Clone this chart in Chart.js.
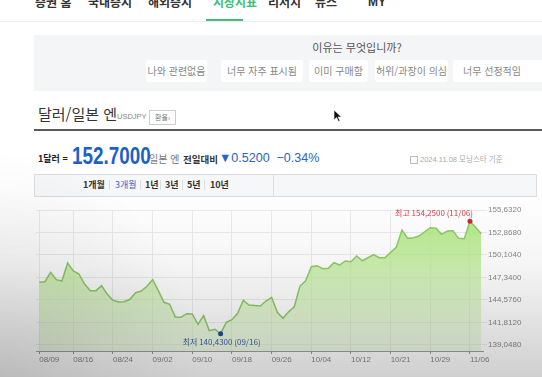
<!DOCTYPE html>
<html lang="ko">
<head>
<meta charset="utf-8">
<script src="https://cdn.jsdelivr.net/npm/chart.js@4.4.1/dist/chart.umd.min.js"></script>
<style>
  html, body { margin:0; padding:0; background:#fff; }
  body { width:542px; height:377px; overflow:hidden; position:relative; font-family:"Noto Sans CJK KR","Noto Sans",sans-serif; }
  .abs { position:absolute; white-space:nowrap; }
  .nav { top:-5px; font-size:12px; font-weight:bold; color:#333; line-height:14px; }
  .btn { top:60px; height:22px; line-height:22px; background:#fff; border-radius:3px; font-size:10px; color:#888; text-align:center; }
  .tab { top:179px; font-size:9px; font-weight:bold; color:#333; line-height:12px; }
  .sep { top:180px; width:1px; height:10px; background:#ddd; }
  .num { font-family:"Liberation Sans",Arial,sans-serif; }
</style>
</head>
<body>
<div class="abs nav" style="left:35px">증권 홈</div>
<div class="abs nav" style="left:88px">국내증시</div>
<div class="abs nav" style="left:148px">해외증시</div>
<div class="abs nav" style="left:213px;color:#3cbf78">시장지표</div>
<div class="abs nav" style="left:268px">리서치</div>
<div class="abs nav" style="left:315px">뉴스</div>
<div class="abs nav num" style="left:368px">MY</div>
<div class="abs" style="left:0;top:21px;width:542px;height:1px;background:#eee"></div>
<div class="abs" style="left:206px;top:19px;width:37px;height:2px;background:#3cbf78"></div>

<div class="abs" style="left:34px;top:35px;width:508px;height:56px;background:#f4f5f7"></div>
<div class="abs" style="left:300px;top:40px;width:114px;text-align:center;font-size:11px;color:#555;line-height:14px">이유는 무엇입니까?</div>
<div class="abs btn" style="left:146px;width:61px">나와 관련없음</div>
<div class="abs btn" style="left:221px;width:82px">너무 자주 표시됨</div>
<div class="abs btn" style="left:309px;width:59px">이미 구매함</div>
<div class="abs btn" style="left:375px;width:73px">허위/과장이 의심</div>
<div class="abs btn" style="left:453px;width:95px;text-align:left;padding-left:10px">너무 선정적임</div>

<div class="abs" style="left:38px;top:104px;font-size:15px;color:#333;line-height:20px">달러/일본 엔</div>
<div class="abs num" style="left:117px;top:112px;font-size:7.5px;color:#888">USDJPY</div>
<div class="abs" style="left:149px;top:110px;width:25px;height:13px;border:1px solid #ccc;font-size:7px;color:#777;line-height:13px;text-align:center">환율›</div>
<svg class="abs" style="left:334px;top:110px" width="8" height="12" viewBox="0 0 8 12"><path d="M0 0 L0 10 L2.5 7.5 L4.5 11.5 L6 10.8 L4 7 L7.5 7 Z" fill="#111" stroke="#fff" stroke-width="0.6"/></svg>
<div class="abs" style="left:34px;top:129px;width:508px;height:2px;background:#5a5a5a"></div>

<div class="abs" style="left:38px;top:152px;font-size:9px;font-weight:bold;color:#222;line-height:14px">1달러 =</div>
<div class="abs num" style="left:72px;top:142px;font-size:23px;font-weight:bold;color:#1d5fc9;line-height:28px;transform:scaleX(0.82);transform-origin:left">152.7000</div>
<div class="abs" style="left:149px;top:152px;font-size:10px;color:#777;line-height:14px">일본 엔</div>
<div class="abs" style="left:183px;top:152px;font-size:9.5px;font-weight:bold;color:#333;line-height:14px">전일대비</div>
<div class="abs num" style="left:219px;top:150px;font-size:12.5px;color:#2a62c4;line-height:16px">▼0.5200 &nbsp;−0.34%</div>
<div class="abs" style="left:410px;top:156px;width:6px;height:6px;border:1px solid #bbb"></div>
<div class="abs" style="left:420px;top:153px;font-size:7.5px;color:#aaa;line-height:12px"><span class="num">2024.11.08</span> 모닝스타 기준</div>

<div class="abs" style="left:34px;top:174px;width:501px;height:21px;background:#f6f7f9;border:1px solid #ddd"></div>
<div class="abs" style="left:273px;top:175px;width:1px;height:21px;background:#ddd"></div>
<div class="abs tab" style="left:83px">1개월</div>
<div class="abs sep" style="left:109px"></div>
<div class="abs tab" style="left:115px;color:#3b66c9;font-weight:normal">3개월</div>
<div class="abs sep" style="left:140px"></div>
<div class="abs tab" style="left:145px">1년</div>
<div class="abs sep" style="left:160px"></div>
<div class="abs tab" style="left:165px">3년</div>
<div class="abs sep" style="left:182px"></div>
<div class="abs tab" style="left:187px">5년</div>
<div class="abs sep" style="left:204px"></div>
<div class="abs tab" style="left:210px">10년</div>

<canvas id="fxChart" class="abs" style="left:0;top:200px" width="542" height="177"></canvas>

<div class="abs" style="left:0;top:190px;width:542px;height:187px;pointer-events:none;background:linear-gradient(to bottom,rgba(0,0,0,0) 0%,rgba(0,0,0,0.04) 40%,rgba(0,0,0,0.19) 100%)"></div>
<div class="abs" style="left:0;top:150px;width:200px;height:227px;pointer-events:none;background:radial-gradient(ellipse 100% 100% at 0% 100%,rgba(0,0,0,0.1),rgba(0,0,0,0) 100%)"></div>

<script>
// USD/JPY daily, 3 months (Mon-Sat)
const dates = ['08/09','08/10','08/12','08/13','08/14','08/15','08/16','08/17','08/19','08/20',
  '08/21','08/22','08/23','08/24','08/26','08/27','08/28','08/29','08/30','08/31',
  '09/02','09/03','09/04','09/05','09/06','09/07','09/09','09/10','09/11','09/12',
  '09/13','09/14','09/16','09/17','09/18','09/19','09/20','09/21','09/23','09/24',
  '09/25','09/26','09/27','09/28','09/30','10/01','10/02','10/03','10/04','10/05',
  '10/07','10/08','10/09','10/10','10/11','10/12','10/14','10/15','10/16','10/17',
  '10/18','10/19','10/21','10/22','10/23','10/24','10/25','10/26','10/28','10/29',
  '10/30','10/31','11/01','11/02','11/04','11/05','11/06','11/07','11/08'];

const rates = [146.75,146.82,147.98,147.07,146.91,149.12,148.14,147.77,146.54,145.72,
  145.72,146.33,145.27,144.54,144.33,144.37,144.66,145.47,145.68,146.26,
  147.07,145.72,144.29,144.05,142.49,142.45,142.89,142.86,141.59,142.65,
  140.81,140.98,140.43,141.84,142.16,142.94,144.54,143.96,143.90,143.84,
  144.45,144.91,143.06,142.33,143.14,143.75,146.29,146.94,148.66,148.79,
  148.42,148.47,149.16,148.87,149.37,149.28,149.98,149.40,149.77,150.14,
  149.77,149.77,150.43,151.05,153.17,152.15,152.23,152.44,152.96,153.46,
  153.38,152.64,153.05,153.09,152.15,152.10,154.25,153.50,152.70];

const yTicks = [139.048, 141.812, 144.576, 147.340, 150.104, 152.868, 155.632];
const xTickDays = ['08/09','08/16','08/24','09/02','09/10','09/18','09/26','10/04','10/12','10/21','10/29','11/06'];

const maxIdx = rates.indexOf(Math.max(...rates));
const minIdx = rates.indexOf(Math.min(...rates));
const fmt = v => v.toFixed(4).replace('.', ',');

const hiLoPlugin = {
  id: 'hiLo',
  afterDatasetsDraw(chart) {
    const pts = chart.getDatasetMeta(0).data;
    const ctx = chart.ctx;
    ctx.save();
    ctx.font = '8px "Noto Sans CJK KR", sans-serif';
    ctx.textBaseline = 'middle';
    const lo = pts[minIdx];
    ctx.fillStyle = '#3d63a6';
    ctx.textAlign = 'center';
    ctx.fillText('최저 ' + fmt(rates[minIdx]) + ' (' + dates[minIdx] + ')', lo.x + 1, lo.y + 8);
    const hi = pts[maxIdx];
    ctx.fillStyle = '#d8404a';
    ctx.textAlign = 'right';
    ctx.fillText('최고 ' + fmt(rates[maxIdx]) + ' (' + dates[maxIdx] + ')', hi.x + 3, hi.y - 8);
    ctx.restore();
  }
};

const fxCtx = document.getElementById('fxChart');
new Chart(fxCtx, {
  type: 'line',
  data: {
    datasets: [{
      data: rates.map((v, i) => ({ x: i, y: v })),
      borderColor: '#8fcc68',
      borderWidth: 1.5,
      tension: 0,
      fill: 'start',
      backgroundColor: (c) => {
        const area = c.chart.chartArea;
        if (!area) return 'rgba(170,225,120,0.6)';
        const g = c.chart.ctx.createLinearGradient(0, area.top, 0, area.bottom);
        g.addColorStop(0, 'rgba(170,232,118,0.95)');
        g.addColorStop(1, 'rgba(210,240,185,0.35)');
        return g;
      },
      pointRadius: (c) => (c.dataIndex === maxIdx || c.dataIndex === minIdx) ? 2.5 : 0,
      pointBackgroundColor: (c) => c.dataIndex === maxIdx ? '#d8242f' : '#1f4e96',
      pointBorderWidth: 0,
      pointHoverRadius: 0
    }]
  },
  options: {
    responsive: false,
    animation: false,
    events: [],
    layout: { padding: { left: 36, top: 10, right: 0, bottom: 0 } },
    plugins: { legend: { display: false }, tooltip: { enabled: false } },
    scales: {
      x: {
        type: 'linear',
        min: -0.58,
        max: 78.3,
        afterBuildTicks: (s) => { s.ticks = xTickDays.map(d => ({ value: dates.indexOf(d) })); },
        afterFit: (s) => { s.height = 26; },
        grid: { color: '#ececec', tickColor: '#999', tickLength: 3 },
        border: { color: '#a0a0a0' },
        ticks: {
          autoSkip: false, maxRotation: 0, align: 'start', padding: 1,
          color: '#888', font: { family: '"Liberation Sans", Arial, sans-serif', size: 8 },
          callback: (v) => dates[v]
        }
      },
      y: {
        position: 'right',
        min: 138.31,
        max: 155.632,
        afterBuildTicks: (s) => { s.ticks = yTicks.map(v => ({ value: v })); },
        afterFit: (s) => { s.width = 59; },
        grid: { color: '#ececec', tickLength: 4 },
        border: { display: false },
        ticks: {
          padding: 1, color: '#888',
          font: { family: '"Liberation Sans", Arial, sans-serif', size: 8 },
          callback: (v) => fmt(v)
        }
      }
    }
  },
  plugins: [hiLoPlugin]
});
</script>
</body>
</html>
